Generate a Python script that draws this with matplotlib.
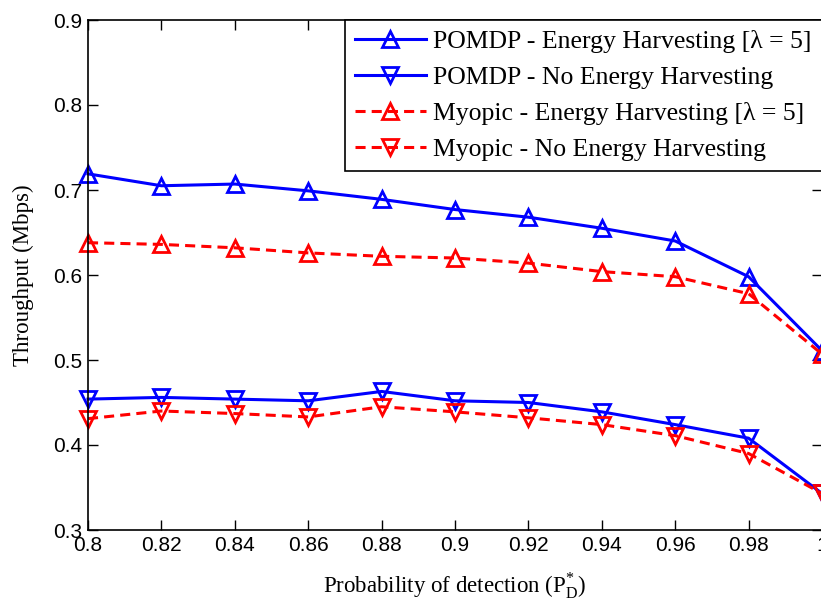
import matplotlib
matplotlib.use('Agg')
import matplotlib.pyplot as plt

# 检测概率与吞吐量数据
pd_star = [0.80, 0.82, 0.84, 0.86, 0.88, 0.90, 0.92, 0.94, 0.96, 0.98, 1.00]
pomdp_eh = [0.719, 0.705, 0.707, 0.699, 0.689, 0.677, 0.668, 0.655, 0.640, 0.598, 0.511]
pomdp_noeh = [0.454, 0.456, 0.454, 0.452, 0.463, 0.452, 0.450, 0.439, 0.424, 0.408, 0.343]
myopic_eh = [0.638, 0.636, 0.632, 0.626, 0.622, 0.620, 0.614, 0.604, 0.598, 0.578, 0.507]
myopic_noeh = [0.431, 0.440, 0.437, 0.433, 0.445, 0.439, 0.432, 0.424, 0.411, 0.390, 0.343]

labels = ['POMDP - Energy Harvesting [\u03bb = 5]',
          'POMDP - No Energy Harvesting',
          'Myopic - Energy Harvesting [\u03bb = 5]',
          'Myopic - No Energy Harvesting']

serif = 'Liberation Serif'
sans = 'Liberation Sans'

fig = plt.figure(figsize=(8.21, 6.06), dpi=100)
ax = fig.add_axes([88 / 821, 76 / 606, 734 / 821, 510 / 606])

ms = 12
mew = 2
lw = 2.2
dash = (3.3, 2.0)
ax.plot(pd_star, pomdp_eh, color='blue', lw=lw, marker='^', ms=ms, mew=mew,
        mfc='none', label=labels[0], clip_on=False)
ax.plot(pd_star, pomdp_noeh, color='blue', lw=lw, marker='v', ms=ms, mew=mew,
        mfc='none', label=labels[1], clip_on=False)
ax.plot(pd_star, myopic_eh, color='red', lw=lw, ls='--', dashes=dash,
        marker='^', ms=ms, mew=mew, mfc='none', label=labels[2], clip_on=False)
ax.plot(pd_star, myopic_noeh, color='red', lw=lw, ls='--', dashes=dash,
        marker='v', ms=ms, mew=mew, mfc='none', label=labels[3], clip_on=False)

ax.set_xlim(0.8, 1.0)
ax.set_ylim(0.3, 0.9)
ax.set_xticks([0.8, 0.82, 0.84, 0.86, 0.88, 0.9, 0.92, 0.94, 0.96, 0.98, 1.0])
ax.set_xticklabels(['0.8', '0.82', '0.84', '0.86', '0.88', '0.9', '0.92',
                    '0.94', '0.96', '0.98', '1'])
ax.set_yticks([0.3, 0.4, 0.5, 0.6, 0.7, 0.8, 0.9])
ax.set_yticklabels(['0.3', '0.4', '0.5', '0.6', '0.7', '0.8', '0.9'])
ax.tick_params(direction='in', length=7, width=1, top=True, right=True,
               labelsize=15, pad=4)
for lab in ax.get_xticklabels() + ax.get_yticklabels():
    lab.set_fontfamily(sans)
for sp in ax.spines.values():
    sp.set_linewidth(1.2)

ax.set_xlabel('Probability of detection (P$_\\mathregular{D}^\\mathregular{*}$)',
              fontsize=16.5, family=serif, labelpad=12)
ax.set_ylabel('Throughput (Mbps)', fontsize=16.5, family=serif, labelpad=14)

leg = ax.legend(loc='upper right', bbox_to_anchor=(1.0, 1.0), borderaxespad=0,
                prop={'family': serif, 'size': 18.5}, handlelength=2.75,
                handletextpad=0.3, labelspacing=0.5, fancybox=False,
                framealpha=1, borderpad=0.4)
leg.get_frame().set_edgecolor('black')
leg.get_frame().set_linewidth(1.2)

fig.savefig('out.png', dpi=100)
